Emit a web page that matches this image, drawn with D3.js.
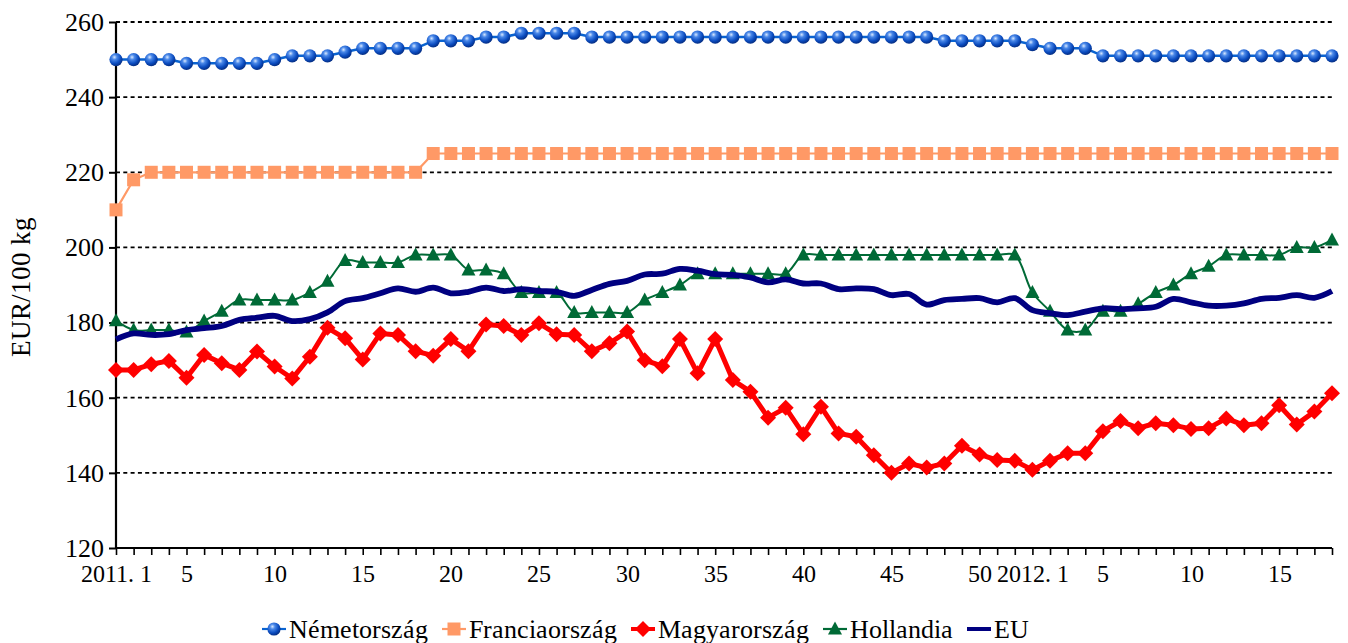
<!DOCTYPE html>
<html><head><meta charset="utf-8">
<script src="https://cdn.jsdelivr.net/npm/d3@7"></script>
<style>
@font-face { font-family: "AliasSerif"; src: local("Liberation Serif"), local("LiberationSerif"); font-weight: normal; font-style: normal; }
</style>
</head>
<body style="margin:0;background:#fff">
<svg id="chart" width="1348" height="643" style="display:block"></svg>
<script>
// ---- data ----
const years = ["2011", "2012"];
const weeksInYear = [52, 18];
const categories = [];
years.forEach((y, i) => { for (let w = 1; w <= weeksInYear[i]; w++) categories.push(y + ". " + w); });
const tickLabels = ["2011. 1","5","10","15","20","25","30","35","40","45","50","2012. 1","5","10","15"];
const tickIndices = [0,4,9,14,19,24,29,34,39,44,49,52,56,61,66];
const yTicks = [120,140,160,180,200,220,240,260];
const seriesNames = ["Németország","Franciaország","Magyarország","Hollandia","EU"];
const yTitle = "EUR/100 kg";

const nemet = [250,250,250,250,249,249,249,249,249,250,251,251,251,252,253,253,253,253,255,255,255,256,256,257,257,257,257,
  256,256,256,256,256,256,256,256,256,256,256,256,256,256,256,256,256,256,256,256,
  255,255,255,255,255,254,253,253,253,
  251,251,251,251,251,251,251,251,251,251,251,251,251,251];
const francia = [210,218,220,220,220,220,220,220,220,220,220,220,220,220,220,220,220,220,
  225,225,225,225,225,225,225,225,225,225,225,225,225,225,225,225,225,225,225,225,225,225,225,225,225,225,
  225,225,225,225,225,225,225,225,225,225,225,225,225,225,225,225,225,225,225,225,225,225,225,225,225,225];
const magyar = [167.4,167.4,168.9,169.8,165.3,171.4,169.2,167.4,172.3,168.3,165.1,170.9,178.6,175.8,170.2,177.1,176.7,172.4,
  171.2,175.6,172.4,179.5,179.1,176.7,179.8,176.9,176.7,172.4,174.5,177.6,170.0,168.4,175.6,166.5,175.6,
  164.7,161.6,154.7,157.3,150.3,157.6,150.5,149.6,144.7,140.0,142.5,141.4,142.5,147.2,144.9,143.4,143.2,
  140.8,143.2,145.2,145.2,151.1,153.8,151.9,153.2,152.7,151.7,151.9,154.5,152.7,153.2,158.0,152.9,156.3,161.2];
const holland = [180.5,178,178,178,177.5,180.4,183,186,186,186,186,188,191,196.5,196,196,196,198,198,198,
  194,194,193,188,188,188,182.7,182.7,182.7,182.7,186,188,190,193,193,193,193,193,193,
  198,198,198,198,198,198,198,198,198,198,198,198,198,
  188,183,178,178,183,183,185,188,190,193,195,198,198,198,198,200,200,202];
const eu = [175.5,177.1,176.7,176.9,178.0,178.5,179.1,180.7,181.3,181.8,180.4,180.9,182.7,185.7,186.5,187.8,189.1,188.2,
  189.3,187.8,188.2,189.3,188.4,188.9,188.4,188.2,187.1,188.7,190.3,191.1,192.8,193.0,194.3,193.8,192.9,
  192.7,192.0,190.7,191.5,190.4,190.4,188.9,189.1,188.9,187.3,187.6,184.8,186.0,186.3,186.5,185.4,186.5,
  183.3,182.5,182.0,182.9,183.8,183.6,183.8,184.2,186.3,185.4,184.5,184.5,185.1,186.3,186.6,187.3,186.6,188.4];

// ---- layout ----
const FONT = "AliasSerif, 'Liberation Serif', serif";
function serif(sel) { return sel.style("font-family", FONT); }
const svg = d3.select("#chart");
const L = 116, R = 1332, T = 22, B = 548;
const x = d3.scalePoint().domain(categories).range([L, R]);
const y = d3.scaleLinear().domain([120, 260]).range([B, T]);

const defs = svg.append("defs");
const rg = defs.append("radialGradient").attr("id","sphere").attr("cx","38%").attr("cy","32%").attr("r","68%");
rg.append("stop").attr("offset","0%").attr("stop-color","#d8e8ff");
rg.append("stop").attr("offset","28%").attr("stop-color","#4a88e8");
rg.append("stop").attr("offset","70%").attr("stop-color","#0b4cc0");
rg.append("stop").attr("offset","100%").attr("stop-color","#052f86");

// gridlines
svg.append("g").selectAll("line").data(yTicks.filter(d => d > 120)).join("line")
  .attr("x1", L).attr("x2", R).attr("y1", d => y(d)).attr("y2", d => y(d))
  .attr("stroke", "#000").attr("stroke-width", 1.8).attr("stroke-dasharray", "4,3.3");

// y axis
const yAxis = d3.axisLeft(y).tickValues(yTicks).tickSize(7).tickPadding(5);
const gy = svg.append("g").attr("transform", `translate(${L},0)`).call(yAxis);
gy.attr("font-family", null).attr("font-size", null);
gy.select(".domain").attr("stroke-width", 2.2).attr("d", `M0,${T}V${B}`);
gy.selectAll(".tick line").attr("stroke-width", 2);
serif(gy.selectAll("text").attr("font-size", 26).attr("fill", "#000"));

// x axis
const xAxis = d3.axisBottom(x).tickSize(7).tickPadding(10)
  .tickFormat((d, i) => { const k = tickIndices.indexOf(i); return k >= 0 ? tickLabels[k] : ""; });
const gx = svg.append("g").attr("transform", `translate(0,${B})`).call(xAxis);
gx.attr("font-family", null).attr("font-size", null);
gx.select(".domain").attr("stroke-width", 2.2).attr("d", `M${L},0H${R}`);
gx.selectAll(".tick line").attr("stroke-width", 1.6);
serif(gx.selectAll("text").attr("font-size", 24).attr("fill", "#000"));

// y title
serif(svg.append("text").attr("transform", `translate(30,${(T+B)/2 + 2}) rotate(-90)`)
  .attr("text-anchor","middle").attr("font-size", 27).text(yTitle));

// series drawing helpers
const idx = d3.range(categories.length);
function lineGen(data, curve) {
  return d3.line().x(i => x(categories[i])).y(i => y(data[i])).curve(curve || d3.curveLinear)(idx);
}
const markers = {
  sphere: (g, cx, cy) => g.append("circle").attr("cx", cx).attr("cy", cy).attr("r", 6.6).attr("fill", "url(#sphere)"),
  square: (g, cx, cy) => g.append("rect").attr("x", cx-6.5).attr("y", cy-6.5).attr("width", 13).attr("height", 13).attr("fill", "#ff9966"),
  diamond: (g, cx, cy) => g.append("path").attr("d", `M${cx},${cy-8}L${cx+8},${cy}L${cx},${cy+8}L${cx-8},${cy}Z`).attr("fill", "#ff0000"),
  triangle: (g, cx, cy) => g.append("path").attr("d", `M${cx},${cy-7.5}L${cx+7},${cy+5.5}L${cx-7},${cy+5.5}Z`).attr("fill", "#006a36")
};
const series = [
  {name: seriesNames[0], data: nemet, color: "#0a63d0", width: 2.5, marker: "sphere", curve: d3.curveLinear},
  {name: seriesNames[1], data: francia, color: "#ff9966", width: 2.2, marker: "square", curve: d3.curveLinear},
  {name: seriesNames[2], data: magyar, color: "#ff0000", width: 5, marker: "diamond", curve: d3.curveLinear},
  {name: seriesNames[3], data: holland, color: "#006a36", width: 2, marker: "triangle", curve: d3.curveCatmullRom.alpha(0.5)},
  {name: seriesNames[4], data: eu, color: "#000080", width: 5.8, marker: null, curve: d3.curveCatmullRom.alpha(0.5)}
];
series.forEach(s => {
  const g = svg.append("g");
  g.append("path").attr("d", lineGen(s.data, s.curve)).attr("fill", "none")
    .attr("stroke", s.color).attr("stroke-width", s.width).attr("stroke-linejoin", "round");
  if (s.marker) idx.forEach(i => markers[s.marker](g, x(categories[i]), y(s.data[i])));
});

// legend
const lg = svg.append("g");
let cursor = 0;
const legY = 629;
const gap = 14;
series.forEach(s => {
  const g = lg.append("g").attr("transform", `translate(${cursor},0)`);
  g.append("line").attr("x1", 0).attr("x2", 24).attr("y1", legY).attr("y2", legY)
    .attr("stroke", s.color).attr("stroke-width", s.marker ? (s.width > 3 ? 4 : 2.2) : 4);
  if (s.marker) markers[s.marker](g, 12, legY);
  const t = serif(g.append("text").attr("x", 27).attr("y", legY + 9).attr("font-size", 26).text(s.name));
  cursor += 27 + t.node().getComputedTextLength() + gap;
});
const totalW = cursor - gap;
lg.attr("transform", `translate(${645.5 - totalW/2},0)`);
</script></body></html>
